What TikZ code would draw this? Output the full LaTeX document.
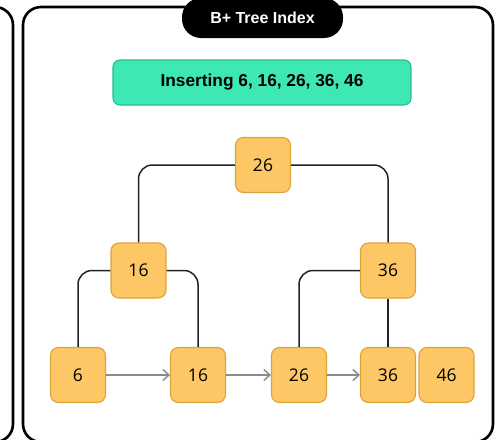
\documentclass[tikz,border=0pt]{standalone}
\usepackage{fontspec}
\setmainfont{Liberation Sans}
\newfontfamily\numfont{Open Sans}
\usetikzlibrary{arrows.meta}
\definecolor{keyfill}{HTML}{FDC765}
\definecolor{keydraw}{HTML}{DDA23A}
\definecolor{greenfill}{HTML}{3DE8B5}
\definecolor{greendraw}{HTML}{22BF8C}
\definecolor{linkgray}{HTML}{8A8A8A}
\definecolor{conncol}{HTML}{222222}
\tikzset{
  keybox/.style={draw=keydraw, fill=keyfill, line width=1.1pt, rounded corners=8pt,
    minimum width=55pt, minimum height=55pt, inner sep=0pt,
    font=\numfont\fontsize{17.5}{20}\selectfont, text=black},
  conn/.style={draw=conncol, line width=1.5pt, rounded corners=14pt},
  link/.style={draw=linkgray, line width=1.4pt, -{Straight Barb[length=6pt,width=11pt,line width=1.4pt]}},
  panel/.style={draw=black, line width=2.6pt, rounded corners=18pt},
  pill/.style={fill=black, text=white, rounded corners=19pt, minimum width=161pt,
    minimum height=40pt, inner sep=0pt, font=\bfseries\fontsize{16}{18}\selectfont},
  banner/.style={draw=greendraw, fill=greenfill, line width=1.1pt, rounded corners=7pt,
    minimum width=298pt, minimum height=45pt, inner sep=0pt,
    font=\bfseries\fontsize{17.3}{20}\selectfont, text=black}
}
\begin{document}
\begin{tikzpicture}[x=1pt,y=-1pt]
\useasboundingbox (0,0) rectangle (495,439);
\clip (0,0) rectangle (495,439);
\draw[panel] (-200,7) rectangle (13,442);
\draw[panel] (23,7) rectangle (493,442);
\node[pill] (title) at (262.5,18) {B+ Tree Index};
\node[banner] (banner) at (262,82.5) {Inserting 6, 16, 26, 36, 46};
\node[keybox] (root) at (263,165) {26};
\node[keybox] (m1) at (138.5,270.5) {16};
\node[keybox] (m2) at (388,270.5) {36};
\node[keybox] (l1) at (78,375) {6};
\node[keybox] (l2) at (198,375) {16};
\node[keybox] (l3) at (299,375) {26};
\node[keybox] (l4) at (388,375) {36};
\node[keybox] (l5) at (446.5,375) {46};
\draw[conn] (root.west) -| (m1.north);
\draw[conn] (root.east) -| (m2.north);
\draw[conn] (m1.west) -| (l1.north);
\draw[conn] (m1.east) -| (l2.north);
\draw[conn] (m2.west) -| (l3.north);
\draw[conn] (m2.south) -- (l4.north);
\draw[link] (l1.east) -- (l2.west);
\draw[link] (l2.east) -- (l3.west);
\draw[link] (l3.east) -- (l4.west);
\end{tikzpicture}
\end{document}
